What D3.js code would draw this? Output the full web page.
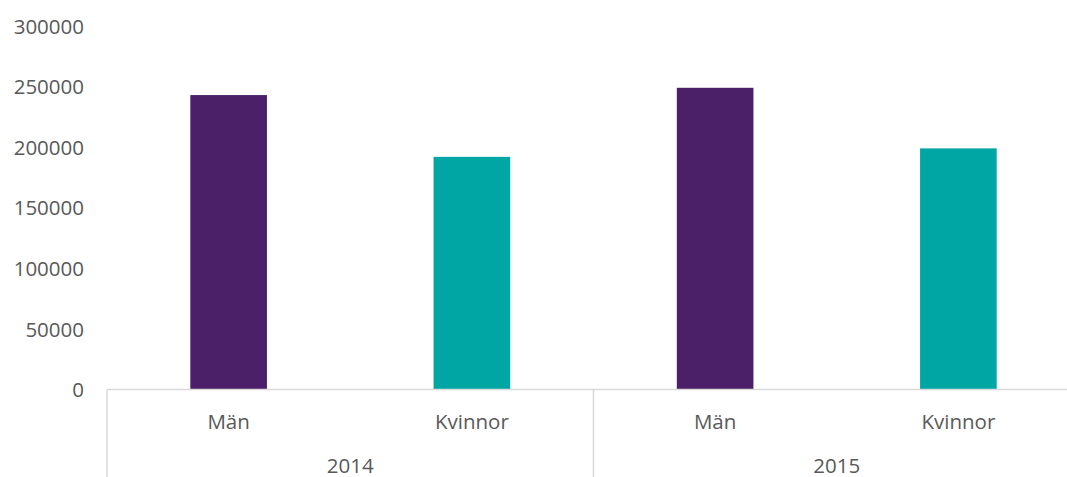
<!DOCTYPE html>
<html>
<head>
<meta charset="utf-8">
<script src="https://cdn.jsdelivr.net/npm/d3@7"></script>
<style>
  body { margin: 0; background: #fff; overflow: hidden; }
  svg { display: block; font-family: "Open Sans", sans-serif; }
  .tick text, .lbl { fill: #595959; font-size: 20.5px; }
</style>
</head>
<body>
<div id="chart"></div>
<script>
var years = ["2014", "2015"],
    sexes = ["Män", "Kvinnor"],
    values2014 = [243000, 192000],
    values2015 = [249000, 199000],
    yTicks = [0, 50000, 100000, 150000, 200000, 250000, 300000],
    colors = ["#4b2068", "#00a6a4"];

var width = 1067,
    height = 477,
    plotLeft = 107,
    plotRight = 1080,
    plotTop = 26,
    plotBottom = 389.5;

var data = [];
years.forEach(function(yr, i) {
  var vals = i === 0 ? values2014 : values2015;
  sexes.forEach(function(s, j) {
    data.push({year: yr, sex: s, key: yr + "|" + s, value: vals[j], idx: j});
  });
});

var x = d3.scaleBand()
    .domain(data.map(function(d) { return d.key; }))
    .range([plotLeft, plotRight]);

var xYear = d3.scaleBand()
    .domain(years)
    .range([plotLeft, plotRight]);

var y = d3.scaleLinear()
    .domain([0, 300000])
    .range([plotBottom, plotTop]);

var svg = d3.select("#chart").append("svg")
    .attr("width", width)
    .attr("height", height);

var barW = x.bandwidth() * 0.315;

svg.selectAll(".bar")
    .data(data)
    .enter().append("rect")
    .attr("class", "bar")
    .attr("x", function(d) { return x(d.key) + (x.bandwidth() - barW) / 2; })
    .attr("width", barW)
    .attr("y", function(d) { return y(d.value); })
    .attr("height", function(d) { return plotBottom - y(d.value); })
    .attr("fill", function(d) { return colors[d.idx]; });

// y axis labels only, no line
var yAxis = d3.axisLeft(y)
    .tickValues(yTicks)
    .tickFormat(d3.format("d"))
    .tickSize(0)
    .tickPadding(0);

var gy = svg.append("g")
    .attr("transform", "translate(84,0)")
    .call(yAxis);
gy.select(".domain").remove();
gy.attr("font-family", null).attr("font-size", null);
gy.selectAll("text").attr("dy", "0.35em");

// baseline
svg.append("line")
    .attr("x1", plotLeft).attr("x2", plotRight)
    .attr("y1", plotBottom).attr("y2", plotBottom)
    .attr("stroke", "#d9d9d9").attr("stroke-width", 1.5);

// group dividers
var dividers = years.map(function(yr) { return xYear(yr); }).concat([plotRight]);
svg.selectAll(".div")
    .data(dividers)
    .enter().append("line")
    .attr("x1", function(d) { return d; }).attr("x2", function(d) { return d; })
    .attr("y1", plotBottom).attr("y2", height)
    .attr("stroke", "#d9d9d9").attr("stroke-width", 1.5);

svg.selectAll(".catlbl")
    .data(data)
    .enter().append("text")
    .attr("class", "lbl")
    .attr("x", function(d) { return x(d.key) + x.bandwidth() / 2; })
    .attr("y", 422)
    .attr("dy", "0.35em")
    .attr("text-anchor", "middle")
    .text(function(d) { return d.sex; });

svg.selectAll(".yrlbl")
    .data(years)
    .enter().append("text")
    .attr("class", "lbl")
    .attr("x", function(d) { return xYear(d) + xYear.bandwidth() / 2; })
    .attr("y", 466)
    .attr("dy", "0.35em")
    .attr("text-anchor", "middle")
    .text(function(d) { return d; });
</script>
</body>
</html>
